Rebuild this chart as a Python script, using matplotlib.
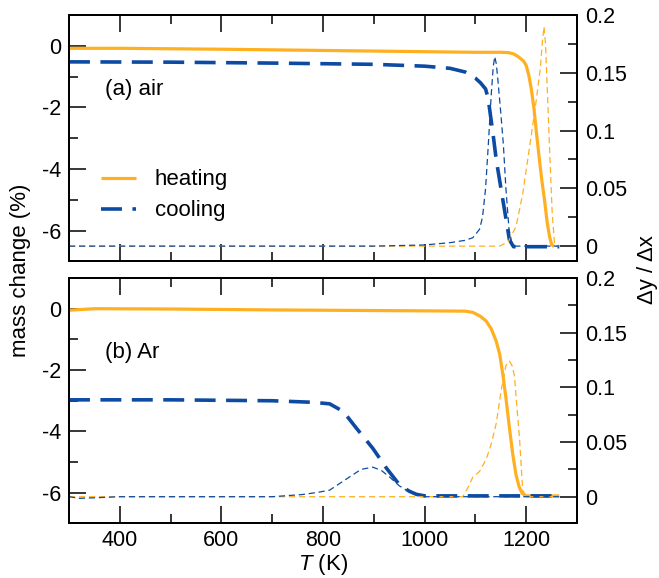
import matplotlib
matplotlib.use("Agg")
import matplotlib.pyplot as plt
from matplotlib.ticker import FixedLocator, MultipleLocator, FuncFormatter

plt.rcParams["font.family"] = ["Liberation Sans", "DejaVu Sans"]
plt.rcParams["axes.unicode_minus"] = False
plt.rcParams["mathtext.fontset"] = "custom"
plt.rcParams["mathtext.it"] = "Liberation Sans:italic"

ORANGE = "#FFB020"
BLUE = "#0D4BA3"

# (a) air, mass change (%)
air_heat_T = [300, 400, 600, 800, 1000, 1100, 1150, 1165, 1175, 1185, 1195, 1200,
              1205, 1210, 1215, 1220, 1226, 1231, 1236, 1241, 1246, 1250, 1255]
air_heat_m = [-0.08, -0.08, -0.11, -0.15, -0.19, -0.21, -0.21, -0.22, -0.26, -0.36,
              -0.5, -0.64, -0.95, -1.4, -2.0, -2.8, -3.7, -4.4, -5.0, -5.7, -6.2,
              -6.45, -6.52]
air_cool_T = [300, 500, 700, 900, 1000, 1050, 1080, 1100, 1110, 1120, 1125, 1130,
              1135, 1141, 1148, 1154, 1161, 1167, 1175, 1200, 1265]
air_cool_m = [-0.52, -0.53, -0.56, -0.6, -0.66, -0.73, -0.85, -1.05, -1.2, -1.4,
              -1.7, -2.3, -2.9, -3.7, -4.4, -5.0, -5.7, -6.3, -6.52, -6.52, -6.52]

# (a) air, derivative
air_dheat_T = [300, 1148, 1165, 1180, 1193, 1206, 1220, 1228, 1232, 1235, 1238,
               1242, 1246, 1251, 1256, 1265]
air_dheat_v = [0, 0, 0.004, 0.017, 0.045, 0.084, 0.127, 0.155, 0.178, 0.19, 0.175,
               0.13, 0.084, 0.03, 0.0, 0.0]
air_dcool_T = [300, 900, 1000, 1050, 1080, 1095, 1108, 1114, 1120, 1125, 1131, 1135,
               1138, 1141, 1144, 1150, 1155, 1160, 1166, 1172, 1178, 1265]
air_dcool_v = [0, 0, 0.001, 0.003, 0.005, 0.0073, 0.0145, 0.025, 0.05, 0.085, 0.13,
               0.155, 0.164, 0.158, 0.145, 0.115, 0.088, 0.05, 0.015, 0.002, 0.0, 0.0]

# (b) Ar, mass change (%)
ar_heat_T = [300, 350, 500, 700, 900, 1000, 1080, 1095, 1110, 1121, 1131, 1141, 1148,
             1154, 1160, 1167, 1174, 1180, 1186, 1192, 1200, 1265]
ar_heat_m = [-0.05, 0.0, -0.01, -0.04, -0.06, -0.07, -0.08, -0.12, -0.25, -0.4,
             -0.65, -1.06, -1.5, -2.15, -2.9, -3.89, -4.8, -5.42, -5.8, -6.02, -6.1,
             -6.1]
ar_cool_T = [300, 500, 700, 780, 813, 840, 866, 898, 925, 951, 970, 984, 1000, 1265]
ar_cool_m = [-2.97, -2.97, -3.0, -3.05, -3.1, -3.35, -3.9, -4.55, -5.2, -5.75,
             -5.95, -6.05, -6.1, -6.1]

# (b) Ar, derivative
ar_dheat_T = [300, 1075, 1085, 1095, 1108, 1121, 1131, 1141, 1151, 1160, 1167, 1172,
              1177, 1182, 1187, 1193, 1200, 1265]
ar_dheat_v = [0, 0, 0.008, 0.018, 0.023, 0.034, 0.048, 0.067, 0.098, 0.12, 0.124,
              0.12, 0.11, 0.08, 0.052, 0.006, 0.0, 0.0]
ar_dcool_T = [300, 320, 350, 400, 700, 760, 790, 813, 852, 875, 898, 915, 931, 950,
              964, 985, 1000, 1265]
ar_dcool_v = [0, -0.0015, -0.001, 0, 0, 0.002, 0.004, 0.006, 0.018, 0.025, 0.027,
              0.024, 0.018, 0.01, 0.006, 0.002, 0.0, 0.0]

TICK_FS = 15.5
TEXT_FS = 16


def style_axes(ax, right=False):
    for s in ax.spines.values():
        s.set_linewidth(1.4)
    ax.tick_params(which="both", direction="in", width=1.1, labelsize=TICK_FS)
    ax.tick_params(which="major", length=12)
    ax.tick_params(which="minor", length=6.5)
    if right:
        ax.tick_params(axis="y", which="both", left=False, right=True, pad=6)
    else:
        ax.tick_params(axis="y", which="both", left=True, right=False, pad=5.5)
        ax.tick_params(axis="x", which="both", top=True, bottom=True, pad=4.5)


fig = plt.figure(figsize=(6.59, 5.78), dpi=100)
ax_top = fig.add_axes([0.1047, 0.5476, 0.7709, 0.4264])
ax_bot = fig.add_axes([0.1047, 0.0943, 0.7709, 0.4247])

panels = [
    (ax_top, "(a) air", 0.696, air_heat_T, air_heat_m, air_cool_T, air_cool_m,
     air_dheat_T, air_dheat_v, air_dcool_T, air_dcool_v, (-0.0133, 0.2)),
    (ax_bot, "(b) Ar", 0.697, ar_heat_T, ar_heat_m, ar_cool_T, ar_cool_m,
     ar_dheat_T, ar_dheat_v, ar_dcool_T, ar_dcool_v, (-0.0245, 0.2)),
]

fmt = FuncFormatter(lambda v, p: "{:g}".format(round(v, 3)))

for ax, tag, tag_y, hT, hm, cT, cm, dhT, dhv, dcT, dcv, rlim in panels:
    ax.plot(hT, hm, color=ORANGE, lw=2.3, label="heating", solid_capstyle="butt")
    ax.plot(cT, cm, color=BLUE, lw=2.6, dashes=(5.8, 2.9), label="cooling")
    ax.set_xlim(300, 1300)
    ax.set_ylim(-7, 1)
    ax.xaxis.set_major_locator(MultipleLocator(200))
    ax.xaxis.set_minor_locator(MultipleLocator(100))
    ax.yaxis.set_major_locator(FixedLocator([-6, -4, -2, 0]))
    ax.yaxis.set_minor_locator(FixedLocator([-7, -5, -3, -1, 1]))
    style_axes(ax)
    ax.text(0.07, tag_y, tag, transform=ax.transAxes, fontsize=TEXT_FS,
            va="center", ha="left")

    axr = ax.twinx()
    axr.plot(dhT, dhv, color=ORANGE, lw=0.9, dashes=(5, 3))
    axr.plot(dcT, dcv, color=BLUE, lw=0.9, dashes=(5, 3))
    axr.set_ylim(*rlim)
    axr.yaxis.set_major_locator(FixedLocator([0, 0.05, 0.1, 0.15, 0.2]))
    axr.yaxis.set_minor_locator(FixedLocator([0.025, 0.075, 0.125, 0.175]))
    axr.yaxis.set_major_formatter(fmt)
    style_axes(axr, right=True)

ax_top.tick_params(axis="x", labelbottom=False)
ax_bot.set_xlabel("$T$ (K)", fontsize=TEXT_FS, labelpad=1)

ax_top.legend(loc="upper left", bbox_to_anchor=(0.046, 0.41), frameon=False,
              fontsize=TEXT_FS, handlelength=1.55, handletextpad=0.85,
              labelspacing=0.45, borderaxespad=0)

fig.text(0.031, 0.533, "mass change (%)", rotation=90, fontsize=TEXT_FS,
         ha="center", va="center")
fig.text(0.983, 0.533, "Δy / Δx", rotation=90, fontsize=TEXT_FS,
         ha="center", va="center")

fig.savefig("out.png", dpi=100)
